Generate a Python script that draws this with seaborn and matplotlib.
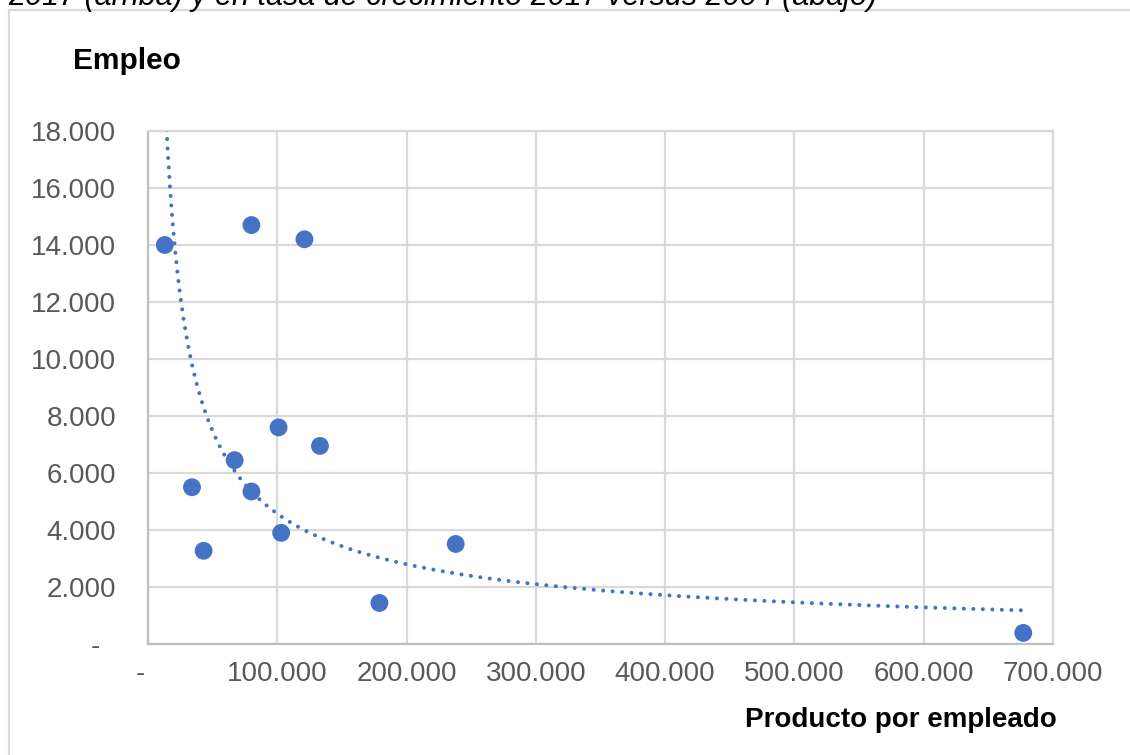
import numpy as np
import pandas as pd
import matplotlib
matplotlib.use("Agg")
import matplotlib.pyplot as plt
from matplotlib.patches import Rectangle
from matplotlib.ticker import FuncFormatter
import seaborn as sns

# Producto por empleado (x) y empleo (y) por sector
producto_por_empleado = [13000, 80000, 121000, 34000, 43000, 67000, 101000,
                         133000, 80000, 103000, 179000, 238000, 677000]
empleo = [14000, 14700, 14200, 5500, 3270, 6450, 7600,
          6950, 5350, 3900, 1440, 3510, 390]

x_ticks = [0, 100000, 200000, 300000, 400000, 500000, 600000, 700000]
y_ticks = [0, 2000, 4000, 6000, 8000, 10000, 12000, 14000, 16000, 18000]

titulo = "2017 (arriba) y en tasa de crecimiento 2017 versus 2004 (abajo)"
etiqueta_y = "Empleo"
etiqueta_x = "Producto por empleado"

df = pd.DataFrame({"producto": producto_por_empleado, "empleo": empleo})

sns.set_theme(style="white")
plt.rcParams["font.family"] = ["Liberation Sans", "DejaVu Sans"]

BLUE = "#4472C4"
GRID = "#D9D9D9"
TICK = "#595959"

fig = plt.figure(figsize=(11.3, 7.55), dpi=100)
ax = fig.add_axes([148 / 1130, 111 / 755, 905 / 1130, 513 / 755])

# Power trendline fitted in log-log space over the data range
b, log_a = np.polyfit(np.log(df["producto"]), np.log(df["empleo"]), 1)
xs = np.linspace(df["producto"].min(), df["producto"].max(), 2000)
ys = np.exp(log_a) * xs ** b
sns.lineplot(x=xs, y=ys, ax=ax, color=BLUE, linewidth=2.9,
             dashes=False, linestyle=(0, (0.01, 2.35)),
             dash_capstyle="round", zorder=3)

sns.scatterplot(data=df, x="producto", y="empleo", ax=ax, color=BLUE,
                s=165, edgecolor="none", zorder=4)

ax.set_xlim(0, 700000)
ax.set_ylim(0, 18000)
ax.set_xticks(x_ticks)
ax.set_yticks(y_ticks)


def miles(v, pos):
    if v == 0:
        return "-  "
    return f"{int(round(v)):,}".replace(",", ".")


ax.xaxis.set_major_formatter(FuncFormatter(miles))
ax.yaxis.set_major_formatter(FuncFormatter(miles))
ax.tick_params(axis="both", length=0, labelsize=20, labelcolor=TICK)
ax.tick_params(axis="x", pad=12)
ax.tick_params(axis="y", pad=23)
ax.set_xlabel("")
ax.set_ylabel("")

ax.grid(True, color=GRID, linewidth=1.6)
ax.set_axisbelow(True)
for side, sp in ax.spines.items():
    sp.set_color(GRID)
    sp.set_linewidth(1.6)
ax.spines["left"].set_color("#BFBFBF")
ax.spines["bottom"].set_color("#BFBFBF")

# Chart frame
fig.patches.append(Rectangle((9 / 1130, -0.05), 1.2, (745 / 755) + 0.05,
                             transform=fig.transFigure, fill=False,
                             edgecolor=GRID, linewidth=1.6))

fig.text(8 / 1130, 750 / 755, titulo, fontsize=22, style="italic",
         color="#000000", ha="left", va="baseline")
fig.text(73 / 1130, 1 - 61 / 755, etiqueta_y, fontsize=21.5, fontweight="bold",
         color="#000000", ha="left", va="center")
fig.text(1057 / 1130, 1 - 720 / 755, etiqueta_x, fontsize=20, fontweight="bold",
         color="#000000", ha="right", va="center")

fig.savefig("out.png", dpi=100)
